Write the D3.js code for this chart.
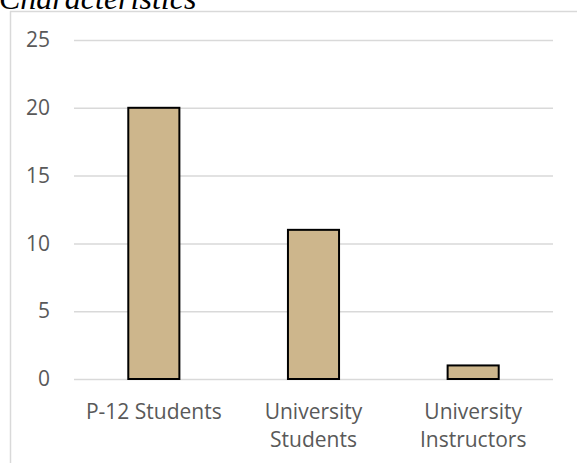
<!DOCTYPE html>
<html>
<head>
<meta charset="utf-8">
<script src="https://cdn.jsdelivr.net/npm/d3@7"></script>
<style>
  html, body { margin: 0; padding: 0; background: #fff; }
  svg { display: block; }
</style>
</head>
<body>
<svg id="chart" width="577" height="463"></svg>
<script>
// Respondent groups and counts
const categories = ["P-12 Students", "University Students", "University Instructors"];
const labelLines = [["P-12 Students"], ["University", "Students"], ["University", "Instructors"]];
const counts = [20, 11, 1];
const yTicks = [0, 5, 10, 15, 20, 25];

const svg = d3.select("#chart");
const W = 577, H = 463;
const labelFont = "Open Sans, Noto Sans, sans-serif";

// Heading above the chart frame (partly clipped at top)
svg.append("text")
  .attr("x", -1).attr("y", 9)
  .attr("font-family", "Liberation Serif, Times New Roman, serif")
  .attr("font-style", "italic")
  .attr("font-size", 32)
  .attr("fill", "#000")
  .text("Characteristics");

// Chart frame
svg.append("line").attr("x1", 10.5).attr("x2", 10.5).attr("y1", 11).attr("y2", H)
  .attr("stroke", "#d9d9d9").attr("stroke-width", 1.5);
svg.append("line").attr("x1", 10).attr("x2", W).attr("y1", 11.5).attr("y2", 11.5)
  .attr("stroke", "#d9d9d9").attr("stroke-width", 1.5);

const plot = { left: 74, right: 553, top: 40, bottom: 379 };

const x = d3.scaleBand()
  .domain(categories)
  .range([plot.left, plot.right])
  .paddingInner(0.68)
  .paddingOuter(0.34);

const y = d3.scaleLinear()
  .domain([0, 25])
  .range([plot.bottom, plot.top]);

// Horizontal gridlines and value labels
const yAxis = d3.axisLeft(y)
  .tickValues(yTicks)
  .tickSize(-(plot.right - plot.left))
  .tickPadding(24)
  .tickFormat(d3.format("d"));

const gy = svg.append("g")
  .attr("transform", `translate(${plot.left},0)`)
  .call(yAxis);
gy.select(".domain").remove();
gy.selectAll(".tick line").attr("stroke", "#d9d9d9").attr("stroke-width", 1.5);
gy.selectAll(".tick text")
  .attr("font-family", labelFont)
  .attr("font-size", 21)
  .attr("fill", "#595959");

// Bars
svg.append("g").selectAll("rect")
  .data(counts)
  .join("rect")
  .attr("x", (d, i) => x(categories[i]))
  .attr("y", d => y(d))
  .attr("width", x.bandwidth())
  .attr("height", d => y(0) - y(d))
  .attr("fill", "#cdb68c")
  .attr("stroke", "#000")
  .attr("stroke-width", 2);

// Category labels (wrapped)
const gx = svg.append("g");
labelLines.forEach((lines, i) => {
  const cx = x(categories[i]) + x.bandwidth() / 2;
  const t = gx.append("text")
    .attr("text-anchor", "middle")
    .attr("font-family", labelFont)
    .attr("font-size", 21)
    .attr("fill", "#595959");
  lines.forEach((ln, j) => {
    t.append("tspan").attr("x", cx).attr("y", 419 + j * 28).text(ln);
  });
});
</script>
</body>
</html>
